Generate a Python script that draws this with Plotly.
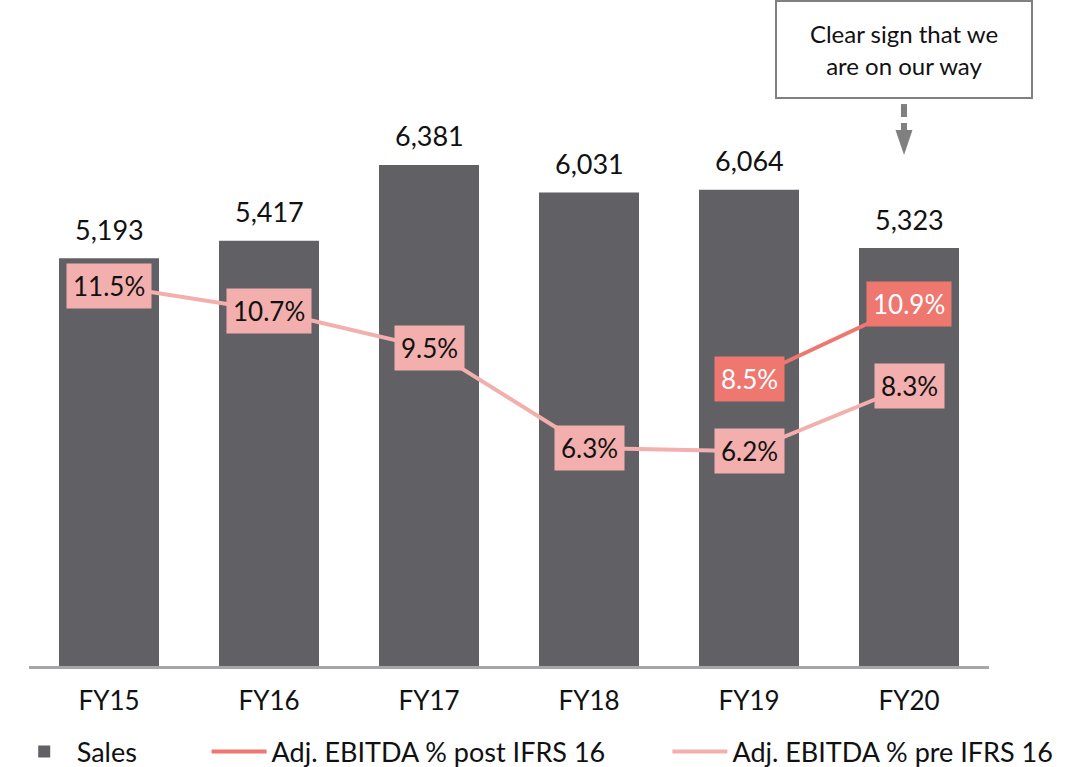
import plotly.graph_objects as go

categories = ["FY15", "FY16", "FY17", "FY18", "FY19", "FY20"]
sales = [5193, 5417, 6381, 6031, 6064, 5323]
ebitda_pre = [11.5, 10.7, 9.5, 6.3, 6.2, 8.3]
ebitda_post = [None, None, None, None, 8.5, 10.9]

BAR = "#616165"
PRE = "#F2AFAD"
POST = "#EE7770"
FONT = "Lato"

fig = go.Figure()
fig.add_trace(go.Bar(x=categories, y=sales, name="Sales", marker=dict(color=BAR, line=dict(width=0)),
                     width=0.625, legend="legend"))
fig.add_trace(go.Scatter(x=categories, y=ebitda_post, name="Adj. EBITDA % post IFRS 16", mode="lines",
                         line=dict(color=POST, width=4), yaxis="y2", legend="legend2", connectgaps=False))
fig.add_trace(go.Scatter(x=categories, y=ebitda_pre, name="Adj. EBITDA % pre IFRS 16", mode="lines",
                         line=dict(color=PRE, width=4), yaxis="y2", legend="legend3"))

annotations = []
for c, s in zip(categories, sales):
    annotations.append(dict(x=c, y=s, xref="x", yref="y", text=f"{s:,}", showarrow=False,
                            yanchor="middle", yshift=29, font=dict(size=27, color="#111111", family=FONT)))
for c, v in zip(categories, ebitda_pre):
    annotations.append(dict(x=c, y=v, xref="x", yref="y2", text=f"{v:.1f}%", showarrow=False,
                            xanchor="center", yanchor="middle",
                            bgcolor=PRE, borderpad=6, font=dict(size=26, color="#111111", family=FONT)))
for c, v in zip(categories, ebitda_post):
    if v is None:
        continue
    annotations.append(dict(x=c, y=v, xref="x", yref="y2", text=f"{v:.1f}%", showarrow=False,
                            xanchor="center", yanchor="middle",
                            bgcolor=POST, borderpad=6, font=dict(size=26, color="white", family=FONT)))

# callout box
annotations.append(dict(x=0.9115, y=0.9255, xref="paper", yref="paper", showarrow=False,
                        xanchor="center", yanchor="middle",
                        text="Clear sign that we<br>are on our way", align="center",
                        width=252, height=93, bordercolor="#808080", borderwidth=2, borderpad=1,
                        bgcolor="white", font=dict(size=24, color="#111111", family=FONT)))

shapes = [
    dict(type="rect", xref="paper", yref="paper", x0=0.9083, x1=0.9146, y0=0.8243, y1=0.8438,
         fillcolor="#808080", line=dict(width=0)),
    dict(type="rect", xref="paper", yref="paper", x0=0.9083, x1=0.9146, y0=0.8048, y1=0.8153,
         fillcolor="#808080", line=dict(width=0)),
    dict(type="path", xref="paper", yref="paper",
         path="M 0.9026 0.8048 L 0.9203 0.8048 L 0.9115 0.7673 Z",
         fillcolor="#808080", line=dict(width=0)),
]

leg_common = dict(orientation="h", yanchor="middle", y=-0.129, bgcolor="rgba(0,0,0,0)",
                  font=dict(size=27, color="#111111", family=FONT), itemwidth=55)

fig.update_layout(
    width=1078, height=767,
    margin=dict(l=29, r=89, t=0, b=101, autoexpand=False),
    plot_bgcolor="white", paper_bgcolor="white",
    bargap=0.375,
    xaxis=dict(range=[-0.5, 5.5], showline=True, linecolor="#A6A6A6", linewidth=3,
               showgrid=False, zeroline=False, ticks="outside", ticklen=10, tickcolor="rgba(0,0,0,0)",
               tickfont=dict(size=26, color="#111111", family=FONT)),
    yaxis=dict(range=[0, 8482], visible=False, showgrid=False),
    yaxis2=dict(range=[-0.676, 20.636], overlaying="y", visible=False, showgrid=False),
    legend=dict(x=-0.018, xanchor="left", **leg_common),
    legend2=dict(x=0.185, xanchor="left", **leg_common),
    legend3=dict(x=0.665, xanchor="left", **leg_common),
    annotations=annotations,
    shapes=shapes,
    showlegend=True,
)

fig.write_html("out.html")
